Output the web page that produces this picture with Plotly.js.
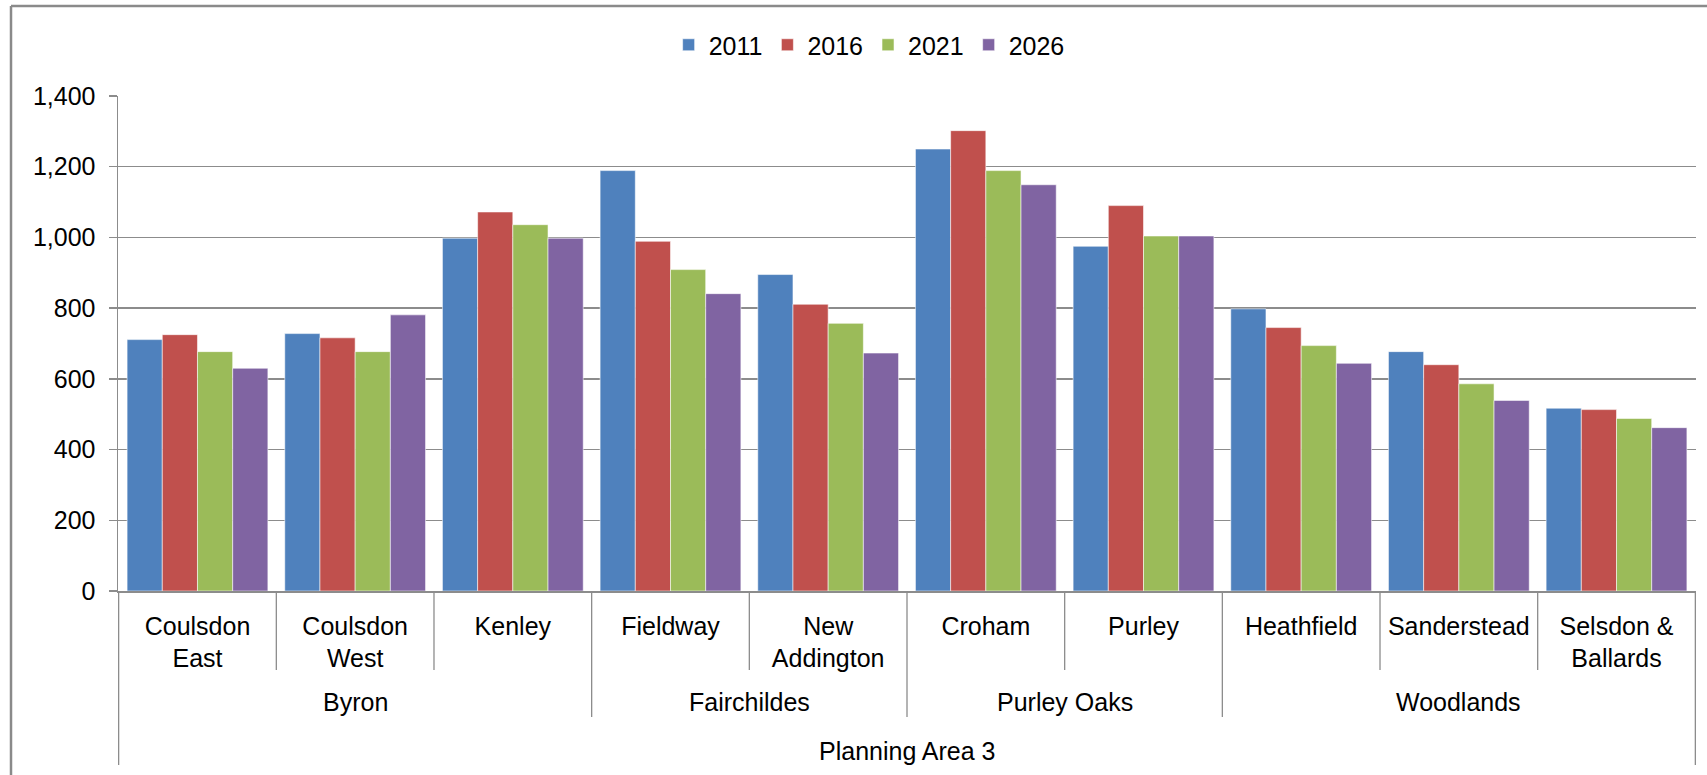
<!DOCTYPE html>
<html>
<head>
<meta charset="utf-8">
<script src="https://cdn.plot.ly/plotly-3.0.1.min.js"></script>
<style>html,body{margin:0;padding:0;background:#fff;}#chart{width:1707px;height:775px;}</style>
</head>
<body>
<div id="chart"></div>
<script>
// ---- data ----
const wards = ['Coulsdon East','Coulsdon West','Kenley','Fieldway','New Addington','Croham','Purley','Heathfield','Sanderstead','Selsdon & Ballards'];
const wardLabels = ['Coulsdon<br>East','Coulsdon<br>West','Kenley','Fieldway','New<br>Addington','Croham','Purley','Heathfield','Sanderstead','Selsdon &<br>Ballards'];
const groupNames = ['Byron','Fairchildes','Purley Oaks','Woodlands'];
const groupSizes = [3, 2, 2, 3];
const areaName = 'Planning Area 3';
const years = ['2011','2016','2021','2026'];
const pop2011 = [711, 728, 998, 1189, 895, 1250, 975, 798, 677, 517];
const pop2016 = [725, 716, 1072, 989, 811, 1302, 1090, 745, 640, 513];
const pop2021 = [677, 677, 1036, 909, 757, 1189, 1004, 694, 586, 488];
const pop2026 = [630, 781, 998, 841, 673, 1149, 1004, 644, 539, 462];
const yTicks = [0, 200, 400, 600, 800, 1000, 1200, 1400];

// ---- styling ----
const colors = ['#4F81BD', '#C0504D', '#9BBB59', '#8064A2'];
const series = [pop2011, pop2016, pop2021, pop2026];
const FONT = 'Liberation Sans, Arial, Helvetica, sans-serif';
const GRID = '#8c8c8c';

const traces = series.map((vals, i) => ({
  type: 'bar',
  name: years[i],
  x: wards,
  y: vals,
  marker: {color: colors[i], line: {color: 'rgba(255,255,255,0.55)', width: 1}},
  hoverinfo: 'x+y+name'
}));

// geometry helpers (paper coords, plot area 495px tall)
const PH = 495;
const py = px => -px / PH; // px below axis -> paper y

const shapes = [];
// boundaries between wards
const groupBounds = new Set();
let acc = 0;
groupSizes.forEach(s => { acc += s; groupBounds.add(acc); });
for (let b = 0; b <= wards.length; b++) {
  let depth;
  if (b === 0 || b === wards.length) depth = 174;
  else if (groupBounds.has(b)) depth = 126;
  else depth = 79;
  shapes.push({type: 'line', xref: 'x', yref: 'paper', x0: b - 0.5, x1: b - 0.5, y0: 0, y1: py(depth),
    line: {color: GRID, width: 1.3}});
}
// outer chart border (top + left)
shapes.push({type: 'line', xref: 'paper', yref: 'paper', x0: -107/1578, x1: 1.01, y0: 585/PH, y1: 585/PH, line: {color: '#8a8a8a', width: 2.5}});
shapes.push({type: 'line', xref: 'paper', yref: 'paper', x0: -107/1578, x1: -107/1578, y0: 585/PH, y1: -0.45, line: {color: '#8a8a8a', width: 2.5}});

const annotations = [];
acc = 0;
groupNames.forEach((g, i) => {
  const center = acc + (groupSizes[i] - 1) / 2;
  acc += groupSizes[i];
  annotations.push({xref: 'x', yref: 'paper', x: center, y: py(111), text: g, showarrow: false,
    xanchor: 'center', yanchor: 'middle', font: {family: FONT, size: 25, color: '#000'}});
});
annotations.push({xref: 'x', yref: 'paper', x: (wards.length - 1) / 2, y: py(160), text: areaName, showarrow: false,
  xanchor: 'center', yanchor: 'middle', font: {family: FONT, size: 25, color: '#000'}});

const layout = {
  width: 1707, height: 775,
  margin: {l: 118, r: 11, t: 96, b: 184, pad: 0},
  paper_bgcolor: '#fff', plot_bgcolor: '#fff',
  font: {family: FONT, size: 25, color: '#000'},
  barmode: 'group', bargap: 0.107, bargroupgap: 0,
  showlegend: true,
  legend: {orientation: 'h', xref: 'paper', yref: 'paper', x: 0.476, y: 1.103, xanchor: 'center', yanchor: 'middle',
    font: {family: FONT, size: 25, color: '#000'}, bgcolor: 'rgba(0,0,0,0)', traceorder: 'normal'},
  xaxis: {type: 'category', tickvals: wards, ticktext: wardLabels, ticks: '', showgrid: false,
    showline: true, linecolor: GRID, linewidth: 1.5, tickfont: {family: FONT, size: 25, color: '#000'},
    ticklabelstandoff: 12, fixedrange: true, zeroline: false},
  yaxis: {range: [0, 1400], tickvals: yTicks, tickformat: ',d', ticks: 'outside', ticklen: 8, tickcolor: GRID,
    tickwidth: 1.3, showgrid: true, gridcolor: GRID, gridwidth: 1.3, showline: true, linecolor: GRID, linewidth: 1.5,
    zeroline: false, tickfont: {family: FONT, size: 25, color: '#000'}, ticklabelstandoff: 8, fixedrange: true},
  shapes: shapes,
  annotations: annotations
};

Plotly.newPlot('chart', traces, layout, {displayModeBar: false, staticPlot: true});
</script>
</body>
</html>
